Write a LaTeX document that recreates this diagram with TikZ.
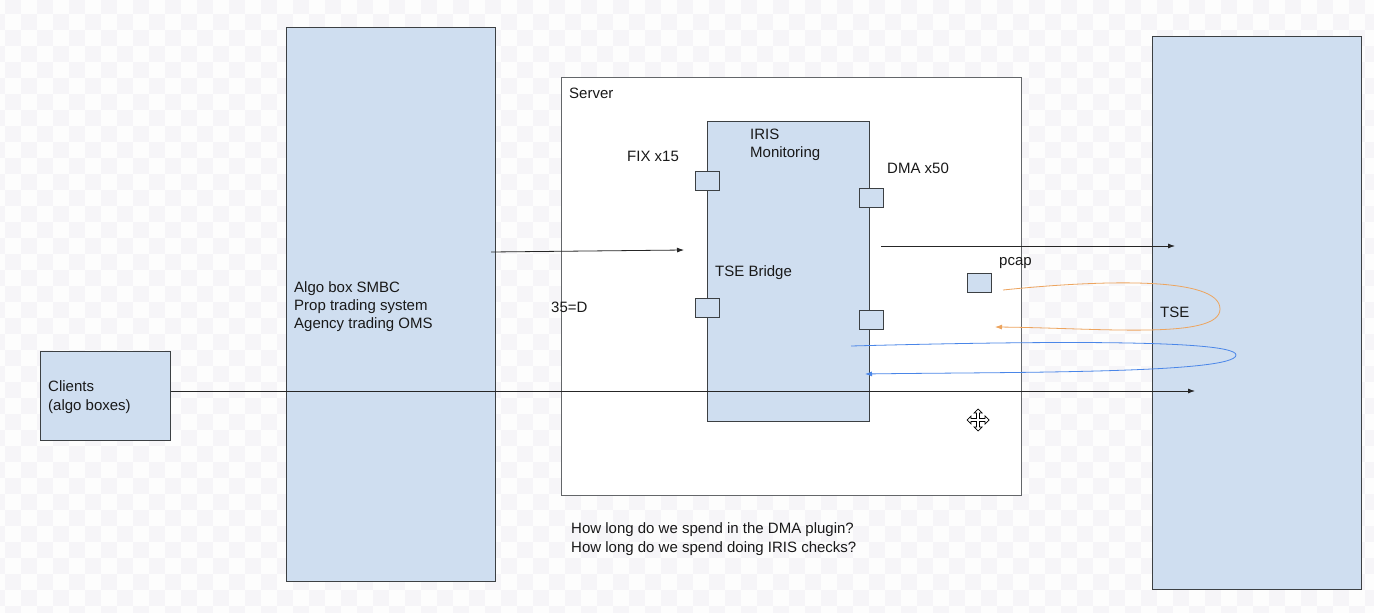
\documentclass[tikz,border=0pt]{standalone}
\usepackage{fontspec}
\setmainfont{Liberation Sans}
\usetikzlibrary{arrows.meta}
\definecolor{boxblue}{HTML}{CFDEF0}
\definecolor{boxline}{HTML}{3C4043}
\definecolor{chkgrey}{HTML}{F6F5F8}
\definecolor{chkwhite}{HTML}{FDFDFD}
\definecolor{loopor}{HTML}{EDA45E}
\definecolor{loopbl}{HTML}{4A86E8}
\tikzset{
  bluebox/.style={draw=boxline, fill=boxblue, line width=0.9pt, inner sep=0pt, anchor=north west},
  whitebox/.style={draw=boxline!80, fill=white, line width=0.9pt, inner sep=0pt, anchor=north west},
  port/.style={bluebox, minimum width=24pt, minimum height=19pt},
  lbl/.style={anchor=base west, inner sep=0pt, font=\fontsize{15}{18}\selectfont, text=black!90},
  flow/.style={draw=black!85, line width=0.8pt, -{Latex[length=7pt,width=5pt]}},
  loopa/.style={draw=loopor, line width=0.8pt, -{Latex[length=7pt,width=5pt]}},
  loopb/.style={draw=loopbl, line width=0.8pt, -{Latex[length=7pt,width=5pt]}},
}
\begin{document}
\begin{tikzpicture}[x=1pt,y=-1pt]
\useasboundingbox (0,0) rectangle (1374,613);
% checkerboard background
\fill[chkwhite] (0,0) rectangle (1374,613);
\foreach \j in {0,2,...,38} \foreach \i in {0,2,...,86}
  \fill[chkgrey] ({5+16*\i},{-2+16*\j}) rectangle ++(16,16);
\foreach \j in {1,3,...,39} \foreach \i in {-1,1,...,85}
  \fill[chkgrey] ({5+16*\i},{-2+16*\j}) rectangle ++(16,16);

% boxes
\node[bluebox, minimum width=209pt, minimum height=554pt] (algo) at (286,27) {};
\node[bluebox, minimum width=130pt, minimum height=89pt] (clients) at (40,351) {};
\node[whitebox, minimum width=460pt, minimum height=418pt] (server) at (561,77) {};
\node[bluebox, minimum width=162pt, minimum height=300pt] (iris) at (707,121) {};
\node[bluebox, minimum width=209pt, minimum height=553pt] (tse) at (1152,36) {};

% ports
\node[port] (fixport) at (695,171) {};
\node[port] (bridgeport) at (695,298) {};
\node[port] (dmaport) at (859,188) {};
\node[port] (outport) at (859,310) {};
\node[port] (pcapbox) at (967,273) {};

% labels
\node[lbl] (lalgo1) at (294,292) {Algo box SMBC};
\node[lbl] (lalgo2) at (294,310) {Prop trading system};
\node[lbl] (lalgo3) at (294,328) {Agency trading OMS};
\node[lbl] (lcl1) at (48,391) {Clients};
\node[lbl] (lcl2) at (48,410) {(algo boxes)};
\node[lbl] (lserver) at (569,98) {Server};
\node[lbl] (liris1) at (750,139) {IRIS};
\node[lbl] (liris2) at (750,157) {Monitoring};
\node[lbl] (lfix) at (627,161) {FIX x15};
\node[lbl] (ldma) at (887,173) {DMA x50};
\node[lbl] (lbridge) at (715,276) {TSE Bridge};
\node[lbl] (l35) at (551,312) {35=D};
\node[lbl] (lpcap) at (999,265) {pcap};
\node[lbl] (ltse) at (1160,317) {TSE};
\node[lbl] (lq1) at (571,533) {How long do we spend in the DMA plugin?};
\node[lbl] (lq2) at (571,552) {How long do we spend doing IRIS checks?};

% connector end points
\coordinate (a1s) at (491,252);
\coordinate (a1e) at (684,250);
\coordinate (a2s) at (881,246);
\coordinate (a2e) at (1175,246);
\coordinate (a3e) at (1195,391);
\coordinate (ors) at (1003,290);
\coordinate (ore) at (995,327);
\coordinate (bls) at (851,346);
\coordinate (ble) at (865,374);

\draw[flow] (a1s) -- (a1e);
\draw[flow] (a2s) -- (a2e);
\draw[flow] (clients.east |- a3e) -- (a3e);

\draw[loopa] (ors) .. controls (1100,280) and (1220,276) .. (1220,309)
   .. controls (1220,340) and (1100,328) .. (ore);
\draw[loopb] (bls) .. controls (1000,342) and (1236,338) .. (1236,355)
   .. controls (1236,374) and (1000,372) .. (ble);

% move cursor icon
\draw[fill=white, line width=0.7pt, line join=miter] (978,420)
  ++(0,-11) -- ++(4,4) -- ++(-2.5,0) -- ++(0,5.5) -- ++(5.5,0) -- ++(0,-2.5) -- ++(4,4)
  -- ++(-4,4) -- ++(0,-2.5) -- ++(-5.5,0) -- ++(0,5.5) -- ++(2.5,0) -- ++(-4,4)
  -- ++(-4,-4) -- ++(2.5,0) -- ++(0,-5.5) -- ++(-5.5,0) -- ++(0,2.5) -- ++(-4,-4)
  -- ++(4,-4) -- ++(0,2.5) -- ++(5.5,0) -- ++(0,-5.5) -- ++(-2.5,0) -- cycle;
\end{tikzpicture}
\end{document}
